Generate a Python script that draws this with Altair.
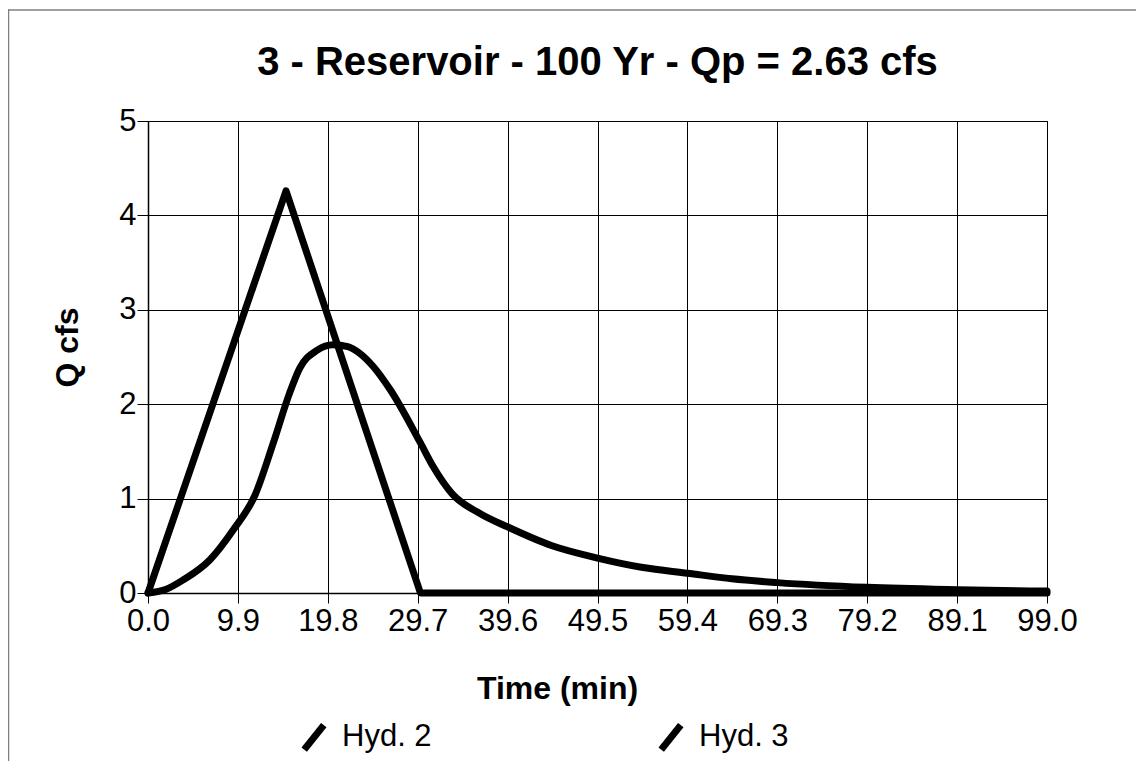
import altair as alt
import pandas as pd

# ---- data ----
hyd2_time = [0.0, 15.2, 30.0, 99.0]
hyd2_q = [0.0, 4.26, 0.0, 0.0]

hyd3_time = [0.0, 2.0, 3.9, 6.8, 9.4, 11.8, 13.8, 15.6, 16.7, 18.6, 20.4, 22.0, 23.3,
             24.8, 26.7, 30.0, 31.4, 33.5, 36.6, 39.6, 44.5, 49.5, 54.5, 59.4, 64.3,
             69.3, 79.2, 89.1, 99.0]
hyd3_q = [0.0, 0.04, 0.14, 0.35, 0.67, 1.04, 1.59, 2.12, 2.38, 2.57, 2.63, 2.61, 2.54,
          2.40, 2.15, 1.59, 1.34, 1.05, 0.84, 0.70, 0.50, 0.37, 0.27, 0.21, 0.15,
          0.11, 0.06, 0.035, 0.02]

series_names = ["Hyd. 2", "Hyd. 3"]
x_ticks = [0.0, 9.9, 19.8, 29.7, 39.6, 49.5, 59.4, 69.3, 79.2, 89.1, 99.0]
y_ticks = [0, 1, 2, 3, 4, 5]

title_text = "3 - Reservoir - 100 Yr - Qp = 2.63 cfs"
x_title = "Time (min)"
y_title = "Q cfs"

FONT = "Liberation Sans"

df2 = pd.DataFrame({"t": hyd2_time, "q": hyd2_q, "series": series_names[0]})
df3 = pd.DataFrame({"t": hyd3_time, "q": hyd3_q, "series": series_names[1]})

x_enc = alt.X(
    "t:Q",
    scale=alt.Scale(domain=[0, 99], nice=False),
    axis=alt.Axis(
        values=x_ticks, format=".1f", title=x_title,
        labelFontSize=31, labelFont=FONT, labelColor="black",
        labelFlush=False, labelOverlap=False, labelPadding=3,
        tickSize=10, tickColor="black", tickWidth=1,
        domainColor="black", domainWidth=1.5,
        grid=True, gridColor="black", gridWidth=1, gridOpacity=1,
        titleFontSize=32, titleFont=FONT, titleFontWeight="bold", titleColor="black",
        titleX=409, titleY=105, titleBaseline="alphabetic", titleAlign="center",
    ),
)
y_enc = alt.Y(
    "q:Q",
    scale=alt.Scale(domain=[0, 5], nice=False),
    axis=alt.Axis(
        values=y_ticks, format="d", title=y_title,
        labelFontSize=31, labelFont=FONT, labelColor="black",
        labelPadding=1, labelOverlap=False,
        tickSize=11, tickColor="black", tickWidth=1,
        domainColor="black", domainWidth=1.5,
        grid=True, gridColor="black", gridWidth=1, gridOpacity=1,
        titleFontSize=32, titleFont=FONT, titleFontWeight="bold", titleColor="black",
        titleAngle=270, titleX=-71, titleY=226, titleBaseline="alphabetic",
        titleAlign="center",
    ),
)
color_enc = alt.Color(
    "series:N",
    scale=alt.Scale(domain=series_names, range=["black", "black"]),
    legend=alt.Legend(
        title=None, orient="none", legendX=150, legendY=600,
        direction="horizontal", columns=2, columnPadding=215,
        symbolType="M-0.8,1L0.8,-1", symbolSize=600, symbolStrokeWidth=7,
        symbolStrokeColor="black", labelFontSize=31, labelFont=FONT,
        labelColor="black", labelOffset=12, padding=0,
    ),
)

line2 = alt.Chart(df2).mark_line(
    strokeWidth=7, strokeCap="round", strokeJoin="round"
).encode(x=x_enc, y=y_enc, color=color_enc)

line3 = alt.Chart(df3).mark_line(
    strokeWidth=7, strokeCap="round", strokeJoin="round", interpolate="monotone"
).encode(x=x_enc, y=y_enc, color=color_enc)

# page frame (top and left gray lines)
frame_top = alt.Chart(pd.DataFrame({"a": [0]})).mark_rule(
    color="#808080", strokeWidth=1.5
).encode(x=alt.value(-140), x2=alt.value(1000), y=alt.value(-111))
frame_left = alt.Chart(pd.DataFrame({"a": [0]})).mark_rule(
    color="#808080", strokeWidth=1.5
).encode(x=alt.value(-139.5), y=alt.value(-112), y2=alt.value(650))

chart = alt.layer(frame_top, frame_left, line3, line2).properties(
    width=899,
    height=472,
    title=alt.Title(
        title_text, fontSize=40, font=FONT, fontWeight="bold", color="black",
        anchor="middle", frame="group", baseline="alphabetic", offset=30, dy=137,
    ),
    autosize=alt.AutoSizeParams(type="none"),
    padding={"left": 140, "top": 113, "right": 89, "bottom": 168},
    background="white",
).configure_view(stroke="black", strokeWidth=1)

chart.save("out.html", embed_options={"renderer": "svg", "actions": False})
